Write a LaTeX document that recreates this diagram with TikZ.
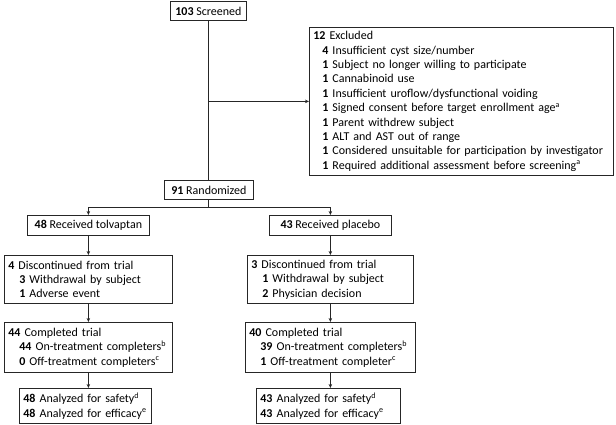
\documentclass[tikz,border=0pt]{standalone}
\usepackage{fontspec}
\setmainfont{Carlito}
\usetikzlibrary{arrows.meta}
\begin{document}
\begin{tikzpicture}[x=1pt,y=-1pt,
  font=\fontsize{12}{14.4}\selectfont,
  bx/.style={draw=black!85, line width=0.8pt, anchor=north west, inner xsep=4pt, inner ysep=0pt, align=left},
  ln/.style={draw=black!85, line width=0.8pt},
  arr/.style={ln, -{Stealth[length=4pt,width=3.5pt]}}]
\useasboundingbox (0,0) rectangle (616,424);
\newcommand{\ind}{\hspace*{11pt}}
\node[bx, align=center, minimum width=76pt, minimum height=19pt] (scr) at (170,1) {\textbf{103} Screened};
\node[bx, text width=296pt, minimum height=148pt] (exc) at (309,27) {\textbf{12} Excluded\\
\hspace*{9pt}\textbf{4} Insufficient cyst size/number\\
\hspace*{9pt}\textbf{1} Subject no longer willing to participate\\
\hspace*{9pt}\textbf{1} Cannabinoid use\\
\hspace*{9pt}\textbf{1} Insufficient uroflow/dysfunctional voiding\\
\hspace*{9pt}\textbf{1} Signed consent before target enrollment age\textsuperscript{a}\\
\hspace*{9pt}\textbf{1} Parent withdrew subject\\
\hspace*{9pt}\textbf{1} ALT and AST out of range\\
\hspace*{9pt}\textbf{1} Considered unsuitable for participation by investigator\\
\hspace*{9pt}\textbf{1} Required additional assessment before screening\textsuperscript{a}};
\node[bx, align=center, minimum width=89pt, minimum height=19pt] (ran) at (164,180) {\textbf{91} Randomized};
\node[bx, align=center, minimum width=122pt, minimum height=20pt] (tol) at (27,215) {\textbf{48} Received tolvaptan};
\node[bx, align=center, minimum width=122pt, minimum height=20pt] (pla) at (269,215) {\textbf{43} Received placebo};
\node[bx, text width=160pt, minimum height=48pt] (dis1) at (4,255) {\textbf{4} Discontinued from trial\\
\ind\textbf{3} Withdrawal by subject\\
\ind\textbf{1} Adverse event};
\node[bx, text width=158pt, minimum height=48pt] (dis2) at (247,255) {\textbf{3} Discontinued from trial\\
\ind\textbf{1} Withdrawal by subject\\
\ind\textbf{2} Physician decision};
\node[bx, text width=160pt, minimum height=50pt] (com1) at (4,322) {\textbf{44} Completed trial\\
\ind\textbf{44} On-treatment completers\textsuperscript{b}\\
\ind\textbf{0} Off-treatment completers\textsuperscript{c}};
\node[bx, text width=162pt, minimum height=50pt] (com2) at (245,322) {\textbf{40} Completed trial\\
\ind\textbf{39} On-treatment completers\textsuperscript{b}\\
\ind\textbf{1} Off-treatment completer\textsuperscript{c}};
\node[bx, text width=124pt, minimum height=35pt] (ana1) at (19,388) {\textbf{48} Analyzed for safety\textsuperscript{d}\\
\textbf{48} Analyzed for efficacy\textsuperscript{e}};
\node[bx, text width=136pt, minimum height=35pt] (ana2) at (256,388) {\textbf{43} Analyzed for safety\textsuperscript{d}\\
\textbf{43} Analyzed for efficacy\textsuperscript{e}};
\coordinate (sp) at (208,207);
\draw[ln] (scr.south) -- (scr.south |- ran.north);
\draw[arr] (scr.south |- exc.west) -- (exc.west);
\draw[ln] (scr.south |- ran.south) -- (scr.south |- sp);
\draw[arr] (scr.south |- sp) -| (tol.north);
\draw[arr] (scr.south |- sp) -| (pla.north);
\draw[arr] (tol.south) -- (tol.south |- dis1.north);
\draw[arr] (pla.south) -- (pla.south |- dis2.north);
\draw[arr] (tol.south |- dis1.south) -- (tol.south |- com1.north);
\draw[arr] (pla.south |- dis2.south) -- (pla.south |- com2.north);
\draw[arr] (tol.south |- com1.south) -- (tol.south |- ana1.north);
\draw[arr] (pla.south |- com2.south) -- (pla.south |- ana2.north);
\end{tikzpicture}
\end{document}
